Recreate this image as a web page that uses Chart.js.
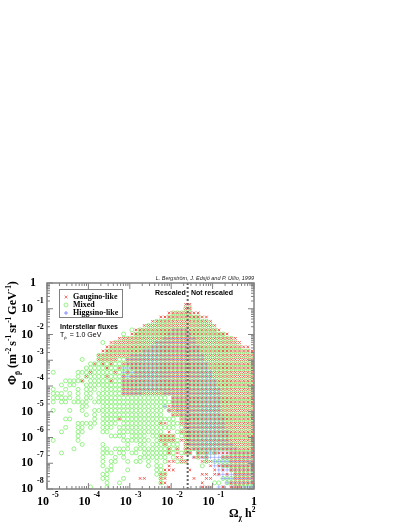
<!DOCTYPE html>
<html>
<head>
<meta charset="utf-8">
<title>Antiproton flux</title>
<script src="https://cdn.jsdelivr.net/npm/chart.js@4"></script>
<style>
html, body { margin: 0; padding: 0; background: #fff; }
canvas { display: block; }
</style>
</head>
<body>
<canvas id="flux_chart" width="407" height="527"></canvas>
<script>
// bin centres (log10 of the axis value)
const logOmega = [-4.95,-4.85,-4.75,-4.65,-4.55,-4.45,-4.35,-4.25,-4.15,-4.05,
    -3.95,-3.85,-3.75,-3.65,-3.55,-3.45,-3.35,-3.25,-3.15,-3.05,
    -2.95,-2.85,-2.75,-2.65,-2.55,-2.45,-2.35,-2.25,-2.15,-2.05,
    -1.95,-1.85,-1.75,-1.65,-1.55,-1.45,-1.35,-1.25,-1.15,-1.05,
    -0.95,-0.85,-0.75,-0.65,-0.55,-0.45,-0.35,-0.25,-0.15,-0.05];
const logFlux = [-0.83,-0.99,-1.16,-1.32,-1.49,-1.65,-1.82,-1.98,-2.15,-2.31,-2.48,
    -2.64,-2.81,-2.97,-3.14,-3.30,-3.47,-3.63,-3.80,-3.96,-4.13,-4.29,
    -4.46,-4.62,-4.79,-4.95,-5.12,-5.28,-5.45,-5.61,-5.78,-5.94,-6.11,
    -6.27,-6.44,-6.60,-6.77,-6.93,-7.10,-7.26,-7.43,-7.59,-7.76,-7.92];

// occupied omega bins in each flux row, top row first
const gauginoRows = ["33-34","33-34","29-36","27-38","25-39","23-40","21-41","20-43","17-45","15-46","14-48",
    "13-49","12-49","12-16 19-49","11 13 15 18-49","14 17 20-49","10 16 19 21-49","9 14 18 20-49","8 15 18-49","18-49","18-49","18-49",
    "30-49","30-49","29-49","29-49","30-49","17 32-49","27 28 32-49","33-49","29 32-49","27-30 33-49","27-30 32-49",
    "28 33-49","29 31 33-49","29 31 33 34 36-38 40-49","31 32 35-38 42-49","29 30 32 33 37-39 44-49","29 39 41-49",
    "28-30 34 40 42 44-49","27 28 37 38 40 41 43 45-49","22 23 27 28 35 38 39 45-49","27 28 37 44-49","29 37-39 42 44-46"];
const mixedRows = ["","33 34","30-34","29-36","26-38","24-39","20 22-40","18 21-42","18-44","13 16-45","15-46",
    "14-48","12-49","8 12-49","10-49","9-49","1 7-49","7 9-49","4-8 10-49","3 5 6 9-49","1 4 7 9-11 13-49","1-3 5 7 9 10 12-49",
    "1-5 7 9 10 12-28 30-49","1 3 4 6-9 11-49","8 9 13-28 30-49","1 5 8 11-27 29-49","9 11 13-27 30-49","4 5 11 13-30 32-49","7-11 13-16 18-27 29-49","4 7 8 10 13-15 17-30 32-49","3 7 8 13 14 17-27 31-49","7 15-18 20-23 25-30 32-49","1 7 18-24 26-31 33-49",
    "8 13 19 22 23 25-31 33-49","6 13 14 16-19 21-31 33-49","3 13-15 17 18 20 21 23-30 32-34 36-40 44-49","13 16 18 22-28 30 36 38 42-49","13 15 16 19 21 22 24 26 28 31-33 38 40-49","13 15 24 26 27 37 42-49",
    "14 15 19 26 27 44-49","13 14 26-28 45-49","13 14 18 27 42-49","14 17 27 40 41 43-49","10 14 45-49"];
const higgsinoRows = ["","","","","","","30-33","29-34","28-35","26-35","25-36",
    "23-36","20-37","19-37","19-38","18-38","18-39","18-39","18-40","18-40","18-41","18-22 28-41",
    "30-41","30-41","28 30-41","29 31-41","32-41","33-42","33-42","33-42","34-43","34-43","34-43",
    "34-44","35-45","34 36 38-49","35 37-49","40-49","40-49","41-49","41-49","42-49","43-49","41 42 44-49"];

const boundaryOmega = [0.025, 0.025];
const boundaryFlux = [1e-8, 1];

const xMajor = [1e-5, 1e-4, 1e-3, 1e-2, 1e-1, 1];
const xExponents = ['-5', '-4', '-3', '-2', '-1', ''];
const yMajor = [1, 1e-1, 1e-2, 1e-3, 1e-4, 1e-5, 1e-6, 1e-7, 1e-8];
const yExponents = ['', '-1', '-2', '-3', '-4', '-5', '-6', '-7', '-8'];

const serifBold = '"Liberation Serif"';
const sansFont = '"Liberation Sans"';
const frameColor = '#808080';

function toPoints(rows) {
    const points = [];
    rows.forEach(function(row, r) {
        row.split(' ').filter(Boolean).forEach(function(run) {
            const ends = run.split('-').map(Number);
            const last = ends.length > 1 ? ends[1] : ends[0];
            for (let c = ends[0]; c <= last; c++) {
                points.push({ x: Math.pow(10, logOmega[c]), y: Math.pow(10, logFlux[r]) });
            }
        });
    });
    return points;
}

// text with sub/superscripts, written left to right from x
function richText(ctx, parts, x, y, size, family) {
    parts.forEach(function(p) {
        const s = p.shift ? size * 0.62 : size;
        ctx.font = (p.plain ? '' : 'bold ') + s + 'px ' + (p.family || family);
        ctx.textAlign = 'left';
        ctx.textBaseline = 'alphabetic';
        ctx.fillText(p.t, x, y + (p.shift || 0));
        x += ctx.measureText(p.t).width + (p.gap || 0);
    });
}

const decorations = {
    id: 'decorations',
    afterDatasetsDraw(chart) {
        const ctx = chart.ctx;
        const xs = chart.scales.x;
        const ys = chart.scales.y;
        const a = chart.chartArea;
        ctx.save();

        // inward log ticks on all four sides
        ctx.strokeStyle = frameColor;
        ctx.lineWidth = 1;
        function tick(x1, y1, x2, y2) {
            ctx.beginPath();
            ctx.moveTo(x1, y1);
            ctx.lineTo(x2, y2);
            ctx.stroke();
        }
        xMajor.forEach(function(v, i) {
            for (let m = 1; m < 10; m++) {
                const val = v * m;
                if (val > 1 || (i === 5 && m > 1)) continue;
                const px = xs.getPixelForValue(val);
                const len = m === 1 ? 6 : 3;
                tick(px, a.bottom, px, a.bottom - len);
                tick(px, a.top, px, a.top + len);
            }
        });
        yMajor.forEach(function(v, i) {
            for (let m = 1; m < 10; m++) {
                const val = v * m;
                if (val > 1 || (i === 0 && m > 1)) continue;
                const py = ys.getPixelForValue(val);
                const len = m === 1 ? 6 : 3;
                tick(a.left, py, a.left + len, py);
                tick(a.right, py, a.right - len, py);
            }
        });
        ctx.lineWidth = 1.5;
        ctx.strokeRect(a.left, a.top, a.right - a.left, a.bottom - a.top);

        // tick labels
        ctx.fillStyle = '#000';
        ctx.textBaseline = 'middle';
        xMajor.forEach(function(v, i) {
            const px = xs.getPixelForValue(v);
            ctx.textAlign = 'right';
            ctx.font = 'bold 12px ' + serifBold;
            if (xExponents[i]) {
                ctx.fillText('10', px + 2, 502);
                ctx.textAlign = 'left';
                ctx.font = 'bold 8px ' + serifBold;
                ctx.fillText(xExponents[i], px + 5, 495);
            } else {
                ctx.textAlign = 'center';
                ctx.fillText('1', px, 502);
            }
        });
        yMajor.forEach(function(v, i) {
            const py = ys.getPixelForValue(v);
            ctx.textAlign = 'right';
            ctx.font = 'bold 12px ' + serifBold;
            if (yExponents[i]) {
                ctx.fillText('10', 33, py);
                ctx.textAlign = 'left';
                ctx.font = 'bold 8px ' + serifBold;
                ctx.fillText(yExponents[i], 37, py - 8);
            } else {
                ctx.fillText('1', 36, py);
            }
        });

        // axis titles
        richText(ctx, [
            { t: '\u03A9', gap: 0 },
            { t: '\u03C7', shift: 3, gap: 3 },
            { t: 'h' },
            { t: '2', shift: -5 }
        ], 229, 517, 12, serifBold);

        ctx.save();
        ctx.translate(16, 385);
        ctx.rotate(-Math.PI / 2);
        richText(ctx, [
            { t: '\u03A6' },
            { t: 'p\u0304', shift: 4, gap: 3 },
            { t: '(m' },
            { t: '-2', shift: -5, gap: 2 },
            { t: 's' },
            { t: '-1', shift: -5, gap: 2 },
            { t: 'sr' },
            { t: '-1', shift: -5, gap: 2 },
            { t: 'GeV' },
            { t: '-1', shift: -5 },
            { t: ')' }
        ], 0, 0, 12, serifBold);
        ctx.restore();

        // legend box
        ctx.strokeStyle = frameColor;
        ctx.lineWidth = 1;
        ctx.fillStyle = '#fff';
        ctx.fillRect(59, 289, 64, 29);
        ctx.strokeRect(59.5, 289.5, 63, 28);
        const entries = [
            { label: 'Gaugino-like', style: 'crossRot', color: '#f05a50', y: 297 },
            { label: 'Mixed', style: 'circle', color: '#80f070', y: 305 },
            { label: 'Higgsino-like', style: 'cross', color: '#6a7aff', y: 313 }
        ];
        entries.forEach(function(e) {
            ctx.strokeStyle = e.color;
            ctx.fillStyle = 'rgba(0,0,0,0)';
            ctx.lineWidth = 0.8;
            Chart.helpers.drawPoint(ctx, { pointStyle: e.style, radius: 2, borderWidth: 0.8 }, 66, e.y);
            ctx.fillStyle = '#000';
            ctx.font = 'bold 8px ' + serifBold;
            ctx.textAlign = 'left';
            ctx.textBaseline = 'middle';
            ctx.fillText(e.label, 73, e.y);
        });

        // notes inside the frame
        ctx.fillStyle = '#000';
        ctx.font = 'bold 7px ' + sansFont;
        ctx.textBaseline = 'alphabetic';
        ctx.fillText('Interstellar fluxes', 60, 329);
        richText(ctx, [
            { t: 'T', plain: true },
            { t: 'p\u0304', shift: 2, plain: true, gap: 1 },
            { t: ' = 1.0 GeV', plain: true }
        ], 60, 337, 7, sansFont);
        ctx.font = 'bold 7px ' + sansFont;
        ctx.textAlign = 'left';
        ctx.fillText('Rescaled', 155, 295);
        ctx.fillText('Not rescaled', 191, 295);
        ctx.font = 'italic 5.5px ' + sansFont;
        ctx.textAlign = 'right';
        ctx.fillStyle = '#222';
        ctx.fillText('L. Bergstr\u00F6m, J. Edsj\u00F6 and P. Ullio, 1999', 254, 280);
        ctx.restore();
    }
};

new Chart(document.getElementById('flux_chart').getContext('2d'), {
    type: 'scatter',
    data: {
        datasets: [
            {
                label: 'Rescaling boundary',
                data: boundaryOmega.map(function(x, i) { return { x: x, y: boundaryFlux[i] }; }),
                showLine: true,
                borderColor: '#666',
                borderWidth: 2,
                borderDash: [2, 2],
                pointRadius: 0
            },
            {
                label: 'Gaugino-like',
                data: toPoints(gauginoRows),
                pointStyle: 'crossRot',
                pointRadius: 1.8,
                pointBorderWidth: 1,
                pointBorderColor: '#f05a50'
            },
            {
                label: 'Higgsino-like',
                data: toPoints(higgsinoRows),
                pointStyle: 'cross',
                pointRadius: 2,
                pointBorderWidth: 0.5,
                pointBorderColor: '#6a7aff'
            },
            {
                label: 'Mixed',
                data: toPoints(mixedRows),
                pointStyle: 'circle',
                pointRadius: 2,
                pointBorderWidth: 0.9,
                pointBorderColor: '#8cf07c',
                pointBackgroundColor: 'rgba(0,0,0,0)'
            }
        ]
    },
    options: {
        responsive: false,
        animation: false,
        layout: { padding: { left: 47, right: 153, top: 283, bottom: 38 } },
        plugins: { legend: { display: false }, tooltip: { enabled: false } },
        scales: {
            x: {
                type: 'logarithmic',
                min: 1e-5,
                max: 1,
                grid: { display: false, drawTicks: false },
                border: { display: false },
                ticks: { display: false }
            },
            y: {
                type: 'logarithmic',
                min: 1e-8,
                max: 1,
                grid: { display: false, drawTicks: false },
                border: { display: false },
                ticks: { display: false }
            }
        }
    },
    plugins: [decorations]
});
</script>
</body>
</html>
